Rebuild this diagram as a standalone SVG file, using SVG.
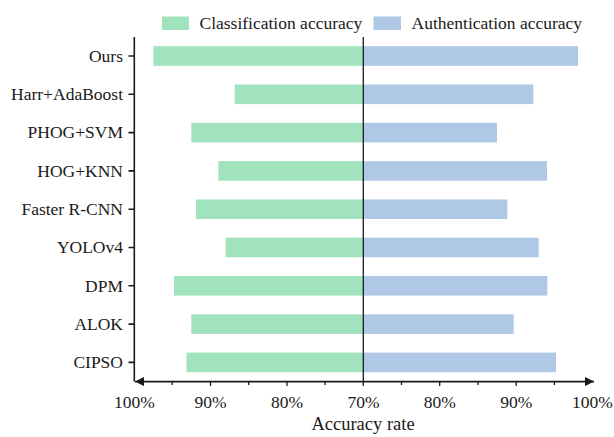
<svg xmlns="http://www.w3.org/2000/svg" width="614" height="437" viewBox="0 0 614 437">
<defs>
<style>
.t{font-family:"Liberation Serif","Times New Roman",serif;font-size:17.5px;fill:#1a1a1a}
.lab{text-anchor:end}
.tick{text-anchor:middle}
.g{fill:#a0e3bd}
.b{fill:#aec8e5}
.ax{stroke:#1a1a1a;stroke-width:1.6;fill:none}
</style>
<marker id="arr" viewBox="0 0 10 10" refX="10" refY="5" markerWidth="11" markerHeight="9" markerUnits="userSpaceOnUse" orient="auto-start-reverse">
<path d="M0,0 L10,5 L0,10 Z" fill="#1a1a1a"/>
</marker>
</defs>
<rect width="614" height="437" fill="#ffffff"/>

<g id="legend">
<rect class="g" x="162" y="16.5" width="27" height="13.5"/>
<text class="t" x="199.5" y="28.5">Classification accuracy</text>
<rect class="b" x="373.5" y="16.5" width="27.5" height="13.5"/>
<text class="t" x="411.5" y="28.5">Authentication accuracy</text>
</g>

<g id="bars">
<g id="ours"><rect class="g" x="153.3" y="46.2" width="210" height="19.6"/><rect class="b" x="363.3" y="46.2" width="214.7" height="19.6"/><text class="t lab" x="123" y="61.8">Ours</text></g>
<g id="harr"><rect class="g" x="234.7" y="84.5" width="128.6" height="19.6"/><rect class="b" x="363.3" y="84.5" width="170" height="19.6"/><text class="t lab" x="123" y="100.1">Harr+AdaBoost</text></g>
<g id="phog"><rect class="g" x="191.3" y="122.8" width="172" height="19.6"/><rect class="b" x="363.3" y="122.8" width="133.7" height="19.6"/><text class="t lab" x="123" y="138.4">PHOG+SVM</text></g>
<g id="hog"><rect class="g" x="218.3" y="161.1" width="145" height="19.6"/><rect class="b" x="363.3" y="161.1" width="183.7" height="19.6"/><text class="t lab" x="123" y="176.7">HOG+KNN</text></g>
<g id="faster"><rect class="g" x="196" y="199.4" width="167.3" height="19.6"/><rect class="b" x="363.3" y="199.4" width="144" height="19.6"/><text class="t lab" x="123" y="215">Faster R-CNN</text></g>
<g id="yolo"><rect class="g" x="225.7" y="237.7" width="137.6" height="19.6"/><rect class="b" x="363.3" y="237.7" width="175.4" height="19.6"/><text class="t lab" x="123" y="253.3">YOLOv4</text></g>
<g id="dpm"><rect class="g" x="174" y="276" width="189.3" height="19.6"/><rect class="b" x="363.3" y="276" width="184" height="19.6"/><text class="t lab" x="123" y="291.6">DPM</text></g>
<g id="alok"><rect class="g" x="191.3" y="314.3" width="172" height="19.6"/><rect class="b" x="363.3" y="314.3" width="150.4" height="19.6"/><text class="t lab" x="123" y="329.9">ALOK</text></g>
<g id="cipso"><rect class="g" x="186.5" y="352.6" width="176.8" height="19.6"/><rect class="b" x="363.3" y="352.6" width="192.7" height="19.6"/><text class="t lab" x="123" y="368.2">CIPSO</text></g>
</g>

<g id="axes">
<path class="ax" d="M134.3,37 V381.5"/>
<path class="ax" d="M128.5,56 H134.3 M128.5,94.3 H134.3 M128.5,132.6 H134.3 M128.5,170.9 H134.3 M128.5,209.2 H134.3 M128.5,247.5 H134.3 M128.5,285.8 H134.3 M128.5,324.1 H134.3 M128.5,362.4 H134.3"/>
<path d="M363.3,37 V386" stroke="#1a1a1a" stroke-width="1.3" fill="none"/>
<path class="ax" d="M135,381.6 H594" marker-start="url(#arr)" marker-end="url(#arr)"/>
<path stroke="#1a1a1a" stroke-width="1.3" fill="none" d="M172.2,381.6 v3.5 M210.5,381.6 v4.5 M248.7,381.6 v3.5 M287,381.6 v4.5 M325.1,381.6 v3.5 M401.5,381.6 v3.5 M439.7,381.6 v4.5 M478,381.6 v3.5 M516.2,381.6 v4.5 M554.4,381.6 v3.5"/>
</g>

<g id="xlabels">
<text class="t tick" x="134.5" y="407.5">100%</text>
<text class="t tick" x="210.5" y="407.5">90%</text>
<text class="t tick" x="287" y="407.5">80%</text>
<text class="t tick" x="363.5" y="407.5">70%</text>
<text class="t tick" x="439.7" y="407.5">80%</text>
<text class="t tick" x="516.2" y="407.5">90%</text>
<text class="t tick" x="592.5" y="407.5">100%</text>
<text class="t tick" x="363" y="430" style="font-size:18.5px">Accuracy rate</text>
</g>
</svg>
